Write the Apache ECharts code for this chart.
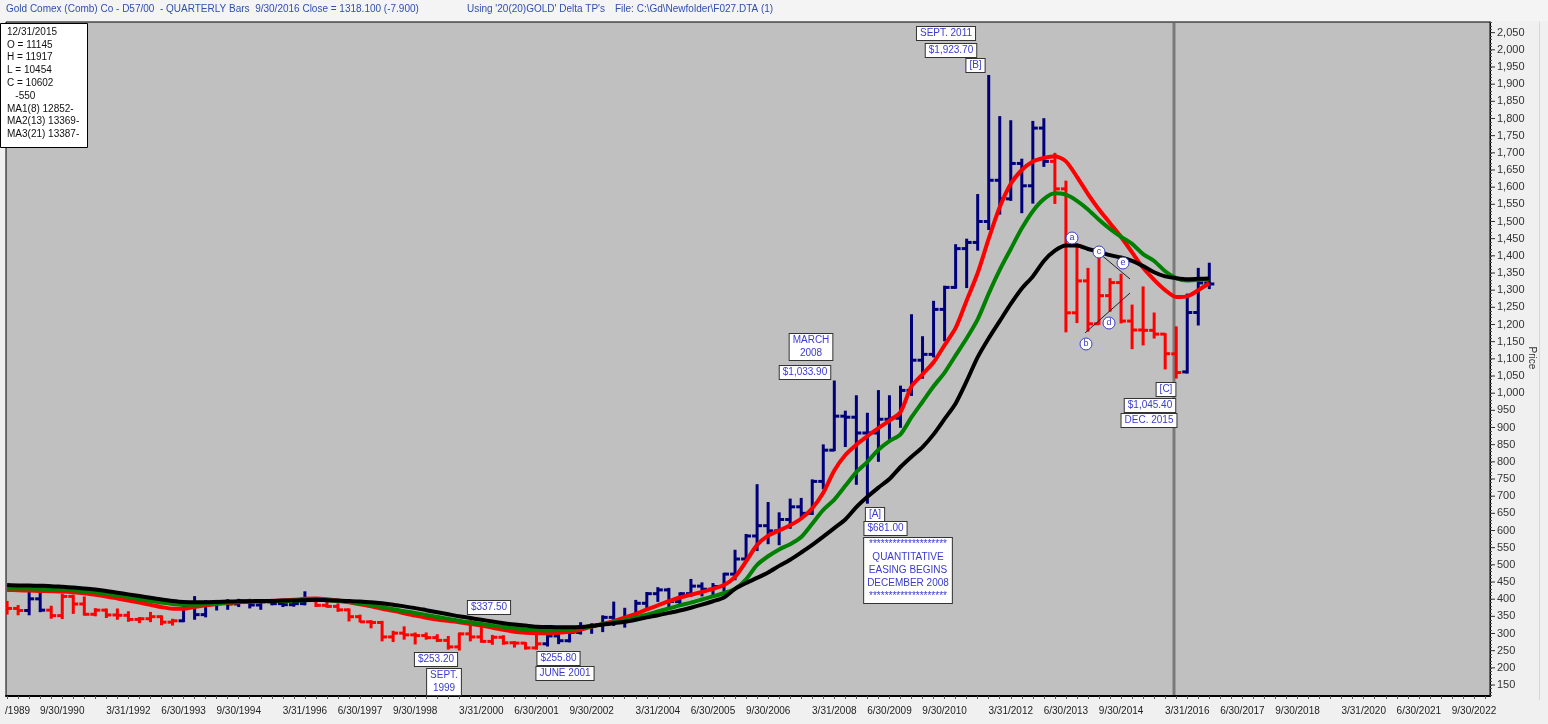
<!DOCTYPE html>
<html><head><meta charset="utf-8">
<script src="https://cdn.jsdelivr.net/npm/echarts@6/dist/echarts.min.js"></script>
<style>html,body{margin:0;padding:0;background:#f0f0f0;}#c{width:1548px;height:724px;}</style>
</head><body><div id="c"></div>
<script>
// ---- DATA (quarterly bars from 6/30/1989 to 9/30/2016, index 0 = 6/30/1989) ----
const barOpen = [385,373,367,401,368,352,408,386,356,368,354,353,341,343,349,333,337,378,355,391,
389,386,395,383,392,387,384,387,396,382,379,369,349,334,332,290,301,296,294,288,
280,261,299,290,277,289,273,272,258,270,293,279,303,318,324,347,336,346,388,416,
427,393,416,438,429,437,473,517,584,614,599,632,669,650,743,834,933,930,884,884,
924,927,1008,1096,1113,1244,1308,1421,1439,1500,1620,1566,1669,1604,1772,1675,1595,1234,1327,1202,
1284,1322,1210,1184,1183,1172,1114.5,1062,1235,1321];
const barHigh = [392,380,418,425,378,413,410,405,371,370,370,362,345,360,350,340,380,406,394,395,
397,398,398,393,398,390,396,420,397,390,385,370,352,336,334,305,318,300,300,295,
290,300,337.5,320,293,292,275,272,295,295,295,305,330,327,350,390,372,395,418,432,
430,417,456,446,444,474,541,587,732,680,650,690,692,746,848,1033.9,946,991,940,1006,
991,1019,1227,1163,1266,1310,1431,1447,1577,1923.7,1804,1792,1680,1790,1798,1697,1616,1434,1362,1392,
1332,1345,1255,1308,1232,1172,1191.7,1287,1362,1377];
const barLow = [358,356,356,365,346,345,360,355,353,348,343,337,333,336,327,326,336,343,350,370,
372,380,376,372,385,380,381,385,380,378,366,338,335,318,280,278,285,271,285,278,
256,253.2,280,276,270,270,262,256,255.8,265,272,277,300,302,307,325,320,342,370,395,
371,385,410,411,411,415,458,517,543,563,560,608,642,648,723,834,846,736,681,803,
863,902,995,1045,1107,1154,1307,1309,1418,1478,1523,1563,1527,1555,1662,1554,1180,1207,1182,1202,
1240,1206,1131,1142,1162,1072,1045.4,1060,1200,1306];
const barClose = [373,367,401,368,352,408,386,356,368,354,353,341,343,349,333,337,378,355,391,389,
386,395,383,392,387,384,387,396,382,379,369,349,334,332,290,301,296,294,288,280,
261,299,290,277,289,273,272,258,270,293,279,303,318,324,347,336,346,388,416,427,
393,416,438,429,437,473,517,584,614,599,632,669,650,743,834,933,930,884,884,924,
927,1008,1096,1113,1244,1308,1421,1439,1500,1620,1566,1669,1604,1772,1675,1595,1234,1327,1202,1284,
1322,1210,1184,1183,1172,1115,1060.2,1235,1321,1318.1];
// 1 = up-trend bar (blue), 0 = down-trend bar (red)
const barTrend = [0,0,1,1,0,0,0,0,0,0,0,0,0,0,0,0,1,1,1,1,
1,1,1,1,1,1,1,1,0,0,0,0,0,0,0,0,0,0,0,0,
0,0,0,0,0,0,0,0,0,1,1,1,1,1,1,1,1,1,1,1,
1,1,1,1,1,1,1,1,1,1,1,1,1,1,1,1,1,1,1,1,
1,1,1,1,1,1,1,1,1,1,1,1,1,1,1,0,0,0,0,0,
0,0,0,0,0,0,0,1,1,1];
// moving averages
const ma1 = [427,426,425,424,423,422,420,417,413,408,402,396,390,384,377,372,372,377,382,386,
389,391,393,394,395,396,398,401,402,400,396,391,385,379,372,366,359,352,346,341,
337,333,328,323,317,311,305,302,301,301,302,305,311,320,328,336,346,357,370,382,
394,405,413,421,430,441,465,510,558,585,600,615,635,665,710,775,820,850,875,898,
920,945,1020,1055,1090,1140,1190,1270,1350,1450,1542,1610,1650,1675,1685,1690,1675,1630,1580,1535,
1495,1455,1410,1365,1330,1300,1280,1282,1300,1320];
const ma2 = [432,431,431,430,429,428,426,423,420,416,411,406,400,395,390,386,384,384,386,388,
390,392,393,394,395,395,396,397,398,397,395,392,388,383,377,371,365,360,354,348,
343,337,332,328,323,319,315,312,310,309,310,313,316,321,327,333,339,346,355,364,
373,382,390,399,408,418,430,458,500,525,545,560,581,620,660,690,730,770,800,835,
860,880,930,975,1020,1060,1110,1160,1215,1290,1359,1420,1480,1530,1565,1582,1578,1560,1535,1505,
1478,1455,1435,1405,1385,1355,1335,1328,1330,1332];
const ma3 = [441,440,440,439,438,436,434,431,428,424,419,414,409,404,399,395,392,391,391,392,
393,394,394,395,395,396,396,397,398,397,396,395,393,391,388,384,379,374,368,362,
356,350,345,340,335,330,326,323,320,319,318,318,319,322,326,330,334,340,347,353,
360,367,375,384,394,405,430,447,462,478,497,515,536,558,582,607,632,668,698,725,
750,785,815,843,880,925,970,1035,1105,1160,1210,1260,1305,1340,1385,1415,1430,1430,1420,1412,
1402,1395,1385,1370,1352,1340,1335,1332,1333,1334];
// axis labels
const xTickIndex = [0,5,11,16,21,27,32,37,43,48,53,59,64,69,75,80,85,91,96,101,107,112,117,123,128,133];
const xTickLabels = ['/1989','9/30/1990','3/31/1992','6/30/1993','9/30/1994','3/31/1996','6/30/1997','9/30/1998',
'3/31/2000','6/30/2001','9/30/2002','3/31/2004','6/30/2005','9/30/2006','3/31/2008','6/30/2009','9/30/2010',
'3/31/2012','6/30/2013','9/30/2014','3/31/2016','6/30/2017','9/30/2018','3/31/2020','6/30/2021','9/30/2022'];
const yTickValues = [150,200,250,300,350,400,450,500,550,600,650,700,750,800,850,900,950,1000,1050,1100,
1150,1200,1250,1300,1350,1400,1450,1500,1550,1600,1650,1700,1750,1800,1850,1900,1950,2000,2050];
const yAxisName = 'Price';
const titleLeft = 'Gold Comex (Comb) Co - D57/00  - QUARTERLY Bars  9/30/2016 Close = 1318.100 (-7.900)';
const titleMid = "Using '20(20)GOLD' Delta TP's";
const titleRight = 'File: C:\\Gd\\Newfolder\\F027.DTA (1)';
const infoLines = ['12/31/2015','O = 11145','H = 11917','L = 10454','C = 10602','   -550','MA1(8) 12852-','MA2(13) 13369-','MA3(21) 13387-'];

// ---- annotation layout (pixels) ----
const notes = [
  {cx:946, top:27, text:'SEPT. 2011'},
  {cx:951, top:44, text:'$1,923.70'},
  {cx:975.5, top:59, text:'[B]'},
  {cx:811, top:334, text:'MARCH\n2008'},
  {cx:805, top:366, text:'$1,033.90'},
  {cx:875, top:508, text:'[A]'},
  {cx:885.5, top:522, text:'$681.00'},
  {cx:908, top:538, text:'********************\nQUANTITATIVE\nEASING BEGINS\nDECEMBER 2008\n********************'},
  {cx:489, top:601, text:'$337.50'},
  {cx:436, top:653, text:'$253.20'},
  {cx:444, top:669, text:'SEPT.\n1999'},
  {cx:558.5, top:652, text:'$255.80'},
  {cx:565, top:667, text:'JUNE 2001'},
  {cx:1166, top:383, text:'[C]'},
  {cx:1150, top:399, text:'$1,045.40'},
  {cx:1149, top:414, text:'DEC. 2015'}
];
const waveMarks = [
  {x:1072, y:238, t:'a'},{x:1086, y:344, t:'b'},{x:1099, y:252, t:'c'},{x:1109, y:323, t:'d'},{x:1123, y:263, t:'e'}
];

const FONT = '"Liberation Sans", Arial, sans-serif';
const X_MIN = -0.1, X_MAX = 134.45, Y_MIN = 118, Y_MAX = 2081;
const chart = echarts.init(document.getElementById('c'), null, {renderer:'canvas'});
const xLabelMap = {};
xTickIndex.forEach((v,k)=>{ xLabelMap[v] = xTickLabels[k]; });
const minorTicks = [];
for (let v = 120; v <= 2080; v += 10) minorTicks.push(v);
const minorX = [];
for (let v = 0; v <= 134; v += 1) minorX.push(v);

const barData = barOpen.map((o,i)=>[i,o,barHigh[i],barLow[i],barClose[i],barTrend[i]]);

const graphics = [];
graphics.push({type:'rect', z:100, shape:{x:0,y:0,width:1548,height:21}, style:{fill:'#f4f4f4'}});
graphics.push({type:'text', z:101, x:6, y:4, style:{text:titleLeft, font:'10px '+FONT, fill:'#2f4fb0'}});
graphics.push({type:'text', z:101, x:467, y:4, style:{text:titleMid, font:'10px '+FONT, fill:'#2f4fb0'}});
graphics.push({type:'text', z:101, x:615, y:4, style:{text:titleRight, font:'10px '+FONT, fill:'#2f4fb0'}});
graphics.push({type:'line', z:3, shape:{x1:1174,y1:23,x2:1174,y2:695}, style:{stroke:'#7a7a7a', lineWidth:3}});
graphics.push({type:'line', z:3, shape:{x1:1539.5,y1:22,x2:1539.5,y2:700}, style:{stroke:'#d8d8d8', lineWidth:1}});
graphics.push({type:'text', z:101, x:1532, y:358, rotation:-Math.PI/2,
  style:{text:yAxisName, font:'10px '+FONT, fill:'#333', align:'center', verticalAlign:'middle'}});
graphics.push({type:'rect', z:100, shape:{x:0.5,y:23.5,width:87,height:124}, style:{fill:'#ffffff', stroke:'#000', lineWidth:1}});
infoLines.forEach((t,k)=>{
  graphics.push({type:'text', z:101, x:7, y:27+k*12.8, style:{text:t, font:'10px '+FONT, fill:'#111'}});
});
notes.forEach(n=>{
  graphics.push({type:'text', z:101, x:n.cx, y:n.top, style:{text:n.text, font:'10px '+FONT, fill:'#3a3ad0',
    align:'center', verticalAlign:'top', lineHeight:13, backgroundColor:'#ffffff', borderColor:'#333', borderWidth:1, padding:[0,3,0,3]}});
});
graphics.push({type:'line', z:90, shape:{x1:1093,y1:248,x2:1130,y2:279}, style:{stroke:'#222', lineWidth:1}});
graphics.push({type:'line', z:90, shape:{x1:1085,y1:333,x2:1130,y2:293}, style:{stroke:'#222', lineWidth:1}});
waveMarks.forEach(w=>{
  graphics.push({type:'circle', z:101, shape:{cx:w.x, cy:w.y, r:6}, style:{fill:'#ffffff', stroke:'#3a3ad0', lineWidth:1}});
  graphics.push({type:'text', z:102, x:w.x, y:w.y, style:{text:w.t, font:'9px '+FONT, fill:'#3a3ad0', align:'center', verticalAlign:'middle'}});
});

chart.setOption({
  animation:false,
  backgroundColor:'#f0f0f0',
  grid:{left:6, right:58, top:22, bottom:28, show:true, containLabel:false, outerBoundsMode:'none',
        backgroundColor:'#c0c0c0', borderColor:'#000', borderWidth:1},
  xAxis:[{
    type:'value', min:X_MIN, max:X_MAX, position:'bottom',
    axisLine:{show:true, onZero:false, lineStyle:{color:'#000', width:2}},
    axisTick:{show:true, customValues:minorX, length:3, lineStyle:{color:'#555'}},
    splitLine:{show:false},
    axisLabel:{customValues:xTickIndex, fontSize:10, fontFamily:FONT, color:'#222', margin:10, showMinLabel:true, showMaxLabel:true,
      formatter:v=>{ const s = xLabelMap[v]||''; return v === 0 ? '{first|'+s+'}' : s; },
      rich:{first:{fontSize:10, fontFamily:FONT, color:'#222', padding:[0,0,0,21]}}}
  }],
  yAxis:[{
    type:'value', position:'right', min:Y_MIN, max:Y_MAX,
    axisLine:{show:true, onZero:false, lineStyle:{color:'#000', width:1}},
    axisTick:{show:true, customValues:minorTicks, length:2, lineStyle:{color:'#555'}},
    splitLine:{show:false},
    axisLabel:{customValues:yTickValues, formatter:v=>Number(v).toLocaleString('en-US'), fontSize:11, fontFamily:FONT, color:'#333', margin:7}
  }],
  series:[
    {type:'custom', name:'bars', z:4, clip:true, data:barData, encode:{x:0, y:[1,2,3,4]},
      renderItem:(params, api)=>{
        const i = api.value(0);
        const col = api.value(5) ? '#00007a' : '#ff0000';
        const pH = api.coord([i, api.value(2)]), pL = api.coord([i, api.value(3)]);
        const pO = api.coord([i, api.value(1)]), pC = api.coord([i, api.value(4)]);
        const st = {stroke:col, lineWidth:3};
        return {type:'group', children:[
          {type:'line', shape:{x1:pH[0], y1:pH[1]-1, x2:pL[0], y2:pL[1]+1}, style:st},
          {type:'line', shape:{x1:pO[0]-5, y1:pO[1], x2:pO[0], y2:pO[1]}, style:st},
          {type:'line', shape:{x1:pC[0], y1:pC[1], x2:pC[0]+5, y2:pC[1]}, style:st}
        ]};
      }},
    {type:'line', name:'MA1(8)', z:5, data:ma1.map((v,i)=>[i,v]), showSymbol:false, smooth:0.25, lineStyle:{color:'#ff0000', width:4}},
    {type:'line', name:'MA2(13)', z:6, data:ma2.map((v,i)=>[i,v]), showSymbol:false, smooth:0.25, lineStyle:{color:'#008000', width:4}},
    {type:'line', name:'MA3(21)', z:7, data:ma3.map((v,i)=>[i,v]), showSymbol:false, smooth:0.25, lineStyle:{color:'#000000', width:4}},
    {type:'custom', name:'majorTicks', z:8, clip:false, silent:true, data:yTickValues.map(v=>[X_MAX, v]), encode:{x:0, y:1},
      renderItem:(params, api)=>{
        const p = api.coord([api.value(0), api.value(1)]);
        return {type:'line', shape:{x1:p[0], y1:p[1], x2:p[0]+5, y2:p[1]}, style:{stroke:'#333', lineWidth:1}};
      }}
  ],
  graphic:graphics
});
</script></body></html>
